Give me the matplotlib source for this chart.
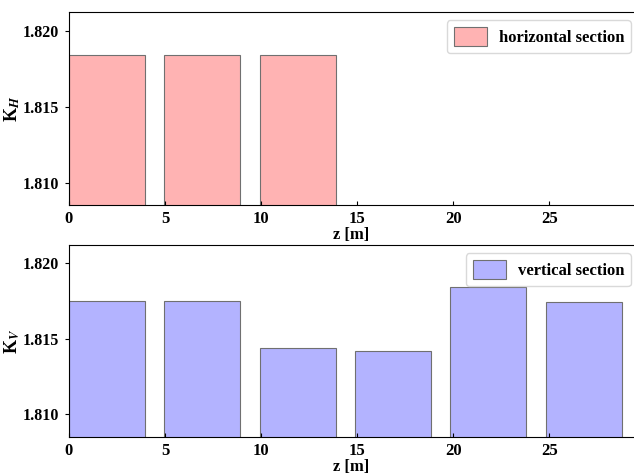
import matplotlib
matplotlib.use('Agg')
import matplotlib.pyplot as plt

plt.rcParams['font.family'] = 'Liberation Serif'
plt.rcParams['font.weight'] = 'bold'
plt.rcParams['mathtext.fontset'] = 'stix'

# quadrupole positions along the line [m] and their lengths
z_start_h = [0.0, 4.96, 9.92]
z_start_v = [0.0, 4.96, 9.92, 14.88, 19.84, 24.8]
quad_len = 3.96

# focusing strengths per section
k_h = [1.8184, 1.8184, 1.8184]
k_v = [1.8175, 1.8175, 1.8144, 1.8142, 1.8184, 1.8174]

fig = plt.figure(figsize=(6.34, 4.76), dpi=100)
ax1 = fig.add_axes([0.1088, 0.5693, 0.8912, 0.4055])
ax2 = fig.add_axes([0.1088, 0.0819, 0.8912, 0.4034])

ax1.bar(z_start_h, k_h, width=quad_len, align='edge',
        facecolor='#ffb3b3', edgecolor='#707070', linewidth=0.8,
        label='horizontal section')
ax2.bar(z_start_v, k_v, width=quad_len, align='edge',
        facecolor='#b3b3ff', edgecolor='#707070', linewidth=0.8,
        label='vertical section')

for ax, lab, ylo, yhi in [(ax1, 'K$_H$', 1.80856, 1.82122),
                          (ax2, 'K$_V$', 1.8085, 1.82117)]:
    ax.set_xlim(0, 29.4)
    ax.set_ylim(ylo, yhi)
    ax.set_yticks([1.810, 1.815, 1.820])
    ax.set_yticklabels(['1.810', '1.815', '1.820'])
    ax.set_xticks([0, 5, 10, 15, 20, 25])
    ax.tick_params(axis='x', direction='in', length=3, labelsize=12, pad=4)
    ax.tick_params(axis='y', direction='out', length=3, labelsize=11.5, pad=4)
    ax.spines['right'].set_visible(False)
    ax.set_xlabel('z [m]', fontsize=12, fontweight='bold', labelpad=0)
    ax.set_ylabel(lab, fontsize=13, fontweight='bold', labelpad=0.5)
    leg = ax.legend(loc='upper right', bbox_to_anchor=(1.009, 1.0),
                    fontsize=12, handlelength=2.0,
                    handleheight=1.4, borderpad=0.4, handletextpad=0.7,
                    fancybox=True)
    leg.get_frame().set_edgecolor('#d0d0d0')

fig.savefig('out.png', dpi=100)
